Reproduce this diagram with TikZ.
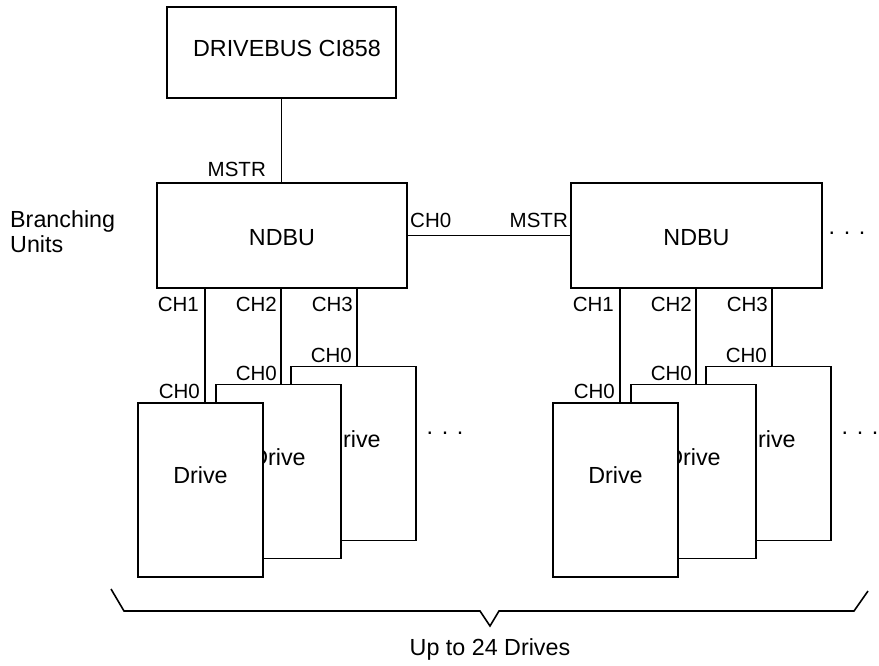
\documentclass[tikz,border=0pt]{standalone}
\usepackage{fontspec}
\setmainfont{Liberation Sans}
\begin{document}
\begin{tikzpicture}[x=1pt,y=-1pt,
  conn/.style={line width=1.8pt},
  boxst/.style={draw, line width=1.8pt, fill=white, inner sep=0pt},
  drivebox/.style={boxst, minimum width=125pt, minimum height=174pt},
  big/.style={font=\fontsize{23.3}{25}\selectfont, inner sep=0pt},
  lbl/.style={font=\fontsize{20.5}{24}\selectfont, inner sep=0pt}]
\useasboundingbox (0,0) rectangle (879,666);

% top controller
\node[boxst, minimum width=229pt, minimum height=91pt] (cib) at (281.5,52.5) {};
\node[big, anchor=base] (cibt) at (287,57) {DRIVEBUS CI858};

% branching units
\node[boxst, minimum width=250pt, minimum height=105pt] (nL) at (282,235.5) {};
\node[big, anchor=base] (nLt) at (282,245) {NDBU};
\node[boxst, minimum width=251pt, minimum height=105pt] (nR) at (696.5,235.5) {};
\node[big, anchor=base] (nRt) at (696.5,245) {NDBU};
\node[big, anchor=north west, align=left] (bu) at (10,210) {Branching\\Units};

\draw[conn] (cib.south) -- (cib.south |- nL.north);
\node[lbl, anchor=base east] (mstr1) at (266,177) {MSTR};

\draw[conn] (nL.east) -- (nR.west);
\node[lbl, anchor=base west] (ch0a) at (410,228) {CH0};
\node[lbl, anchor=base east] (mstr2) at (568,228) {MSTR};

\node[big, anchor=base] (ndots) at (847,235) {. . .};

% drive groups
\foreach \g/\dx in {L/0,R/415}{
  \node[drivebox] (dB\g) at ({353.5+\dx},453.5) {};
  \node[big, anchor=base] (tB\g) at ({353.5+\dx},447) {Drive};
  \node[drivebox] (dM\g) at ({278.5+\dx},471.5) {};
  \node[big, anchor=base] (tM\g) at ({278.5+\dx},465) {Drive};
  \node[drivebox] (dF\g) at ({200.5+\dx},490) {};
  \node[big, anchor=base] (tF\g) at ({200.5+\dx},483) {Drive};
  \coordinate (k1\g) at ({205+\dx},300);
  \coordinate (k2\g) at ({281+\dx},300);
  \coordinate (k3\g) at ({357+\dx},300);
  \draw[conn] (n\g.south -| k1\g) -- (k1\g |- dF\g.north);
  \draw[conn] (n\g.south -| k2\g) -- (k2\g |- dM\g.north);
  \draw[conn] (n\g.south -| k3\g) -- (k3\g |- dB\g.north);
  \node[lbl, anchor=base east] (c1\g) at ({199+\dx},311) {CH1};
  \node[lbl, anchor=base east] (c2\g) at ({277+\dx},311) {CH2};
  \node[lbl, anchor=base east] (c3\g) at ({353+\dx},311) {CH3};
  \node[lbl, anchor=base east] (z1\g) at ({200+\dx},398) {CH0};
  \node[lbl, anchor=base east] (z2\g) at ({277+\dx},380) {CH0};
  \node[lbl, anchor=base east] (z3\g) at ({352+\dx},362) {CH0};
  \node[big, anchor=base] (dd\g) at ({445+\dx},434) {. . .};
}

% brace
\coordinate (b1) at (111,589);
\coordinate (b2) at (124,611);
\coordinate (b3) at (480,611);
\coordinate (b4) at (490,626);
\coordinate (b5) at (499,611);
\coordinate (b6) at (854,611);
\coordinate (b7) at (868,591);
\draw[line width=1.6pt] (b1) -- (b2) -- (b3) -- (b4) -- (b5) -- (b6) -- (b7);
\node[big, anchor=base] (upto) at (490,655) {Up to 24 Drives};
\end{tikzpicture}
\end{document}
